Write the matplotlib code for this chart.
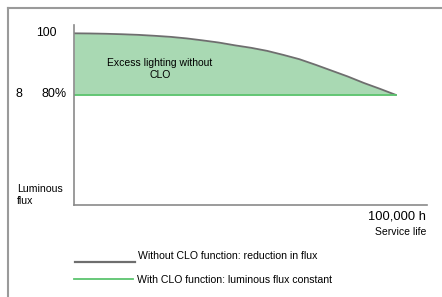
import matplotlib
matplotlib.use("Agg")
import matplotlib.pyplot as plt
from matplotlib.lines import Line2D

plt.rcParams['font.family'] = ['Liberation Sans', 'DejaVu Sans']

# Data
hours = [0, 5000, 10000, 15000, 20000, 25000, 30000, 35000, 40000, 45000, 50000,
         55000, 60000, 65000, 70000, 75000, 80000, 85000, 90000, 95000, 100000]
flux_without_clo = [100, 99.95, 99.85, 99.7, 99.5, 99.2, 98.85, 98.35, 97.7, 97.0, 96.1,
                    95.3, 94.3, 93.0, 91.6, 89.8, 87.9, 86.0, 83.9, 82.0, 80.0]
flux_with_clo = [80] * len(hours)
legend_labels = ["Without CLO function: reduction in flux",
                 "With CLO function: luminous flux constant"]

W, H = 442, 297
fig = plt.figure(figsize=(W / 100, H / 100), dpi=100)

def fx(px):
    return px / W

def fy(py):
    return 1 - py / H

ax = fig.add_axes([fx(74), fy(205), fx(427) - fx(74), fy(25) - fy(205)])
ax.set_xlim(0, 109627)
ax.set_ylim(44.3, 102.7)

gray = '#6e6e6e'
green = '#5cc46e'
fill = '#a9d9b3'

ax.fill_between(hours, flux_with_clo, flux_without_clo, color=fill, lw=0)
ax.plot(hours, flux_without_clo, color=gray, lw=1.3, solid_capstyle='round')
ax.plot(hours, flux_with_clo, color=green, lw=1.3)

for s in ['top', 'right']:
    ax.spines[s].set_visible(False)
for s in ['left', 'bottom']:
    ax.spines[s].set_color('#8a8a8a')
    ax.spines[s].set_linewidth(1.2)
ax.set_xticks([])
ax.set_yticks([])
ax.patch.set_alpha(0)

# Text
fig.text(fx(57), fy(33.5), "100", ha='right', va='center', fontsize=8.8)
fig.text(fx(67), fy(94), "80%", ha='right', va='center', fontsize=9.0)
fig.text(fx(16), fy(94), "8", ha='left', va='center', fontsize=9.0)
fig.text(fx(160), fy(69), "Excess lighting without\nCLO", ha='center', va='center',
         fontsize=7.5, linespacing=1.25)
fig.text(fx(17), fy(195), "Luminous\nflux", ha='left', va='center', fontsize=7.6,
         linespacing=1.15)
fig.text(fx(426), fy(216.5), "100,000 h", ha='right', va='center', fontsize=9.3)
fig.text(fx(426), fy(232), "Service life", ha='right', va='center', fontsize=7.5)

# Legend (manual)
fig.add_artist(Line2D([fx(75), fx(135)], [fy(262), fy(262)], color=gray, lw=1.6))
fig.text(fx(138), fy(256), legend_labels[0], ha='left', va='center', fontsize=7.6)
fig.add_artist(Line2D([fx(74), fx(133)], [fy(278.5), fy(278.5)], color=green, lw=1.3))
fig.text(fx(137), fy(280), legend_labels[1], ha='left', va='center', fontsize=7.6)

# Frame
fig.add_artist(Line2D([fx(8), 1], [fy(8), fy(8)], color='#9a9a9a', lw=1.5))
fig.add_artist(Line2D([fx(8), fx(8)], [0, fy(8)], color='#9a9a9a', lw=1.5))

fig.savefig("out.png", dpi=100)
